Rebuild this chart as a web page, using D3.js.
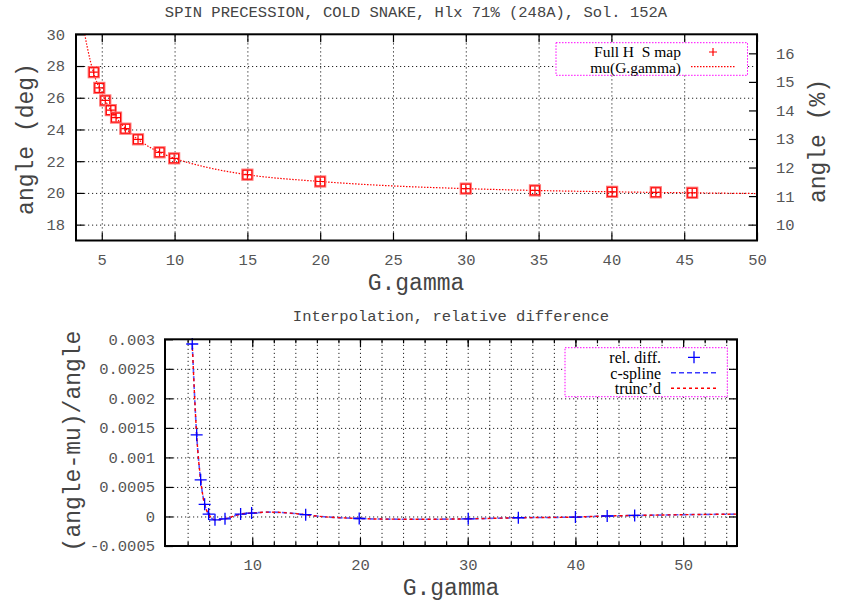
<!DOCTYPE html>
<html><head><meta charset="utf-8">
<script src="https://cdn.jsdelivr.net/npm/d3@7/dist/d3.min.js"></script>
<style>
body{margin:0;background:#fff;}
svg text{font-family:"Liberation Mono","DejaVu Sans Mono",monospace;}
</style></head>
<body><svg id="c" width="841" height="603"></svg>
<script>
// ---- data: top panel ----
const gGamma = [4.45, 4.83, 5.24, 5.62, 5.98, 6.62, 7.49, 8.97, 9.97, 15.0, 20.0, 30.0, 34.75, 40.05, 43.05, 45.55];
const angleDeg = [27.61, 26.62, 25.83, 25.22, 24.75, 24.05, 23.38, 22.56, 22.18, 21.15, 20.72, 20.27, 20.16, 20.07, 20.04, 20.01];
const muG = [3.83, 4.0, 4.45, 5.0, 5.5, 6.0, 7.0, 8.0, 9.0, 10.0, 12.0, 15.0, 20.0, 25.0, 30.0, 35.0, 40.0, 45.0, 50.0];
const muVal = [30.0, 29.2, 27.53, 26.28, 25.4, 24.74, 23.74, 23.05, 22.55, 22.18, 21.66, 21.15, 20.72, 20.44, 20.27, 20.15, 20.07, 20.01, 19.96];
const topXTicks = [5, 10, 15, 20, 25, 30, 35, 40, 45, 50];
const topYTicks = [18, 20, 22, 24, 26, 28, 30];
const topY2Ticks = [10, 11, 12, 13, 14, 15, 16];
// ---- data: bottom panel ----
const relG = [4.43, 4.84, 5.21, 5.58, 5.95, 6.54, 7.47, 8.92, 9.94, 14.96, 19.93, 30.05, 34.7, 40.0, 42.95, 45.5];
const relDiff = [0.00292, 0.00138, 0.00062, 0.000205, 0.00004, -0.000056, -0.00004, 0.00004, 0.000057, 0.00003, -0.000034, -0.00004, -0.000022, -0.00001, 0.000008, 0.000017];
const splineG = [4.43, 4.84, 5.21, 5.58, 5.95, 6.54, 7.47, 8.92, 9.94, 11.6, 14.96, 16.0, 19.93, 22.0, 26.0, 30.05, 34.7, 40.0, 42.95, 45.5, 50.0, 55.0];
const splineVal = [0.00292, 0.00138, 0.00062, 0.000205, 0.00004, -0.000056, -0.00004, 0.00004, 0.000057, 0.000074, 0.00003, 0.000007, -0.000034, -0.000044, -0.000047, -0.00004, -0.000022, -0.00001, 0.000008, 0.000017, 0.00003, 0.00004];
const truncVal = [0.00292, 0.00138, 0.00062, 0.000205, 0.00004, -0.000056, -0.00004, 0.00004, 0.000057, 0.000074, 0.00003, 0.000007, -0.000034, -0.000044, -0.000047, -0.00004, -0.000022, -0.00001, 0.000008, 0.000017, 0.00003, 0.00004];
const botXTicks = [10, 20, 30, 40, 50];
const botXMinor = d3.range(4, 55, 2);
const botYTicks = [-0.0005, 0, 0.0005, 0.001, 0.0015, 0.002, 0.0025, 0.003];

const svg = d3.select("#c");
const TICKC = "#555", LABC = "#444";

function frame(g, x, y){
  const [x0,x1]=x.range(), [y0,y1]=y.range();
  g.append("rect").attr("x",x0).attr("y",y1).attr("width",x1-x0).attr("height",y0-y1)
   .attr("fill","none").attr("stroke","#000").attr("stroke-width",2);
}
function grid(g, x, y, xs, ys){
  const [x0,x1]=x.range(), [y0,y1]=y.range();
  const gx = g.append("g").attr("transform",`translate(0,${y0})`)
    .call(d3.axisBottom(x).tickValues(xs).tickSize(-(y0-y1)).tickFormat(""));
  const gy = g.append("g").attr("transform",`translate(${x0},0)`)
    .call(d3.axisLeft(y).tickValues(ys).tickSize(-(x1-x0)).tickFormat(""));
  [gx,gy].forEach(a=>{a.select(".domain").remove();
    a.selectAll("line").attr("stroke","#222").attr("stroke-width",1).attr("stroke-dasharray","1.2,2.8");});
}
function styleAxis(a, fs){
  a.select(".domain").remove();
  a.selectAll("line").attr("stroke","#000").attr("stroke-width",1.2);
  a.selectAll("text").attr("fill",TICKC).style("font-size",fs+"px");
}

// ================= TOP PANEL =================
const xT = d3.scaleLinear().domain([3.23, 50]).range([76, 757]);
const yT = d3.scaleLinear().domain([17, 30]).range([240.5, 34.3]);
const y2T = d3.scaleLinear().domain([17/1.8, 30/1.8]).range([240.5, 34.3]);
const gT = svg.append("g");
grid(gT, xT, yT, topXTicks.filter(d=>d<50), topYTicks.filter(d=>d<30));

let a = gT.append("g").attr("transform","translate(0,240.5)")
  .call(d3.axisBottom(xT).tickValues(topXTicks).tickSizeInner(-8).tickSizeOuter(0).tickPadding(13));
styleAxis(a, 15.5);
a = gT.append("g").attr("transform","translate(0,34.3)")
  .call(d3.axisTop(xT).tickValues(topXTicks).tickSizeInner(-8).tickSizeOuter(0).tickFormat(""));
styleAxis(a, 15.5);
a = gT.append("g").attr("transform","translate(76,0)")
  .call(d3.axisLeft(yT).tickValues(topYTicks).tickSizeInner(-8).tickSizeOuter(0).tickPadding(11));
styleAxis(a, 15.5);
a = gT.append("g").attr("transform","translate(757,0)")
  .call(d3.axisRight(y2T).tickValues(topY2Ticks).tickSizeInner(-8).tickSizeOuter(0).tickPadding(19));
styleAxis(a, 15.5);

// mu curve
svg.append("clipPath").attr("id","clipT").append("rect")
  .attr("x",76).attr("y",34.3).attr("width",681).attr("height",206.2);
gT.append("path").attr("clip-path","url(#clipT)")
  .datum(muG.map((g,i)=>[g, muVal[i]]))
  .attr("d", d3.line().x(d=>xT(d[0])).y(d=>yT(d[1])).curve(d3.curveMonotoneX))
  .attr("fill","none").attr("stroke","#f00").attr("stroke-width",1.2).attr("stroke-dasharray","1.5,1.5");

// points
const pts = gT.append("g").selectAll("g").data(gGamma.map((g,i)=>[g, angleDeg[i]])).join("g")
  .attr("transform", d=>`translate(${xT(d[0])},${yT(d[1])})`);
pts.append("rect").attr("x",-5).attr("y",-5).attr("width",10).attr("height",10)
  .attr("fill","none").attr("stroke","#ff7070").attr("stroke-width",2.2);
pts.append("rect").attr("x",-4.5).attr("y",-4.5).attr("width",9).attr("height",9)
  .attr("fill","none").attr("stroke","#f00").attr("stroke-width",1);
pts.append("path").attr("d","M-4,0H4M0,-4V4").attr("stroke","#f00").attr("stroke-width",1.2);

frame(gT, xT, yT);

// titles / labels
svg.append("text").attr("x",416).attr("y",17).attr("text-anchor","middle")
  .attr("fill",LABC).style("font-size","15.5px").text("SPIN PRECESSION, COLD SNAKE, Hlx 71% (248A), Sol. 152A");
svg.append("text").attr("x",416).attr("y",290).attr("text-anchor","middle")
  .attr("fill",LABC).style("font-size","23px").text("G.gamma");
svg.append("text").attr("transform","translate(33,139) rotate(-90)").attr("text-anchor","middle")
  .attr("fill",LABC).style("font-size","23px").text("angle (deg)");
svg.append("text").attr("transform","translate(825,141) rotate(-90)").attr("text-anchor","middle")
  .attr("fill",LABC).style("font-size","23px").text("angle (%)");

// legend top
const lt = svg.append("g");
lt.append("rect").attr("x",556).attr("y",42.7).attr("width",191.5).attr("height",32.6)
  .attr("fill","#fff").attr("stroke","#f0f").attr("stroke-width",1).attr("stroke-dasharray","1.5,1.5");
lt.append("text").attr("x",681).attr("y",57).attr("text-anchor","end").attr("fill","#000")
  .style("font-family","'Liberation Serif',serif").style("font-size","15.5px").style("white-space","pre")
  .text("Full H\u00a0 S map");
lt.append("path").attr("d","M709,52H717M713,48V56").attr("stroke","#f00").attr("stroke-width",1.2);
lt.append("text").attr("x",681).attr("y",72.5).attr("text-anchor","end").attr("fill","#000")
  .style("font-family","'Liberation Serif',serif").style("font-size","15.5px").text("mu(G.gamma)");
lt.append("line").attr("x1",691).attr("x2",735).attr("y1",66.7).attr("y2",66.7)
  .attr("stroke","#f00").attr("stroke-width",1.2).attr("stroke-dasharray","1.5,1.5");

// ================= BOTTOM PANEL =================
const xB = d3.scaleLinear().domain([1.9, 55]).range([165, 737]);
const yB = d3.scaleLinear().domain([-0.0005, 0.003]).range([546, 339.3]);
const gB = svg.append("g");
grid(gB, xB, yB, botXMinor, botYTicks.filter(d=>d>-0.0005 && d<0.003));

const fmtB = d => d===0 ? "0" : String(+d.toFixed(4));
a = gB.append("g").attr("transform","translate(0,546)")
  .call(d3.axisBottom(xB).tickValues(botXMinor).tickSizeInner(-4).tickSizeOuter(0).tickFormat(""));
styleAxis(a, 15.5);
a = gB.append("g").attr("transform","translate(0,339.3)")
  .call(d3.axisTop(xB).tickValues(botXMinor).tickSizeInner(-4).tickSizeOuter(0).tickFormat(""));
styleAxis(a, 15.5);
a = gB.append("g").attr("transform","translate(0,546)")
  .call(d3.axisBottom(xB).tickValues(botXTicks).tickSizeInner(-8).tickSizeOuter(0).tickPadding(13));
styleAxis(a, 15.5);
a = gB.append("g").attr("transform","translate(0,339.3)")
  .call(d3.axisTop(xB).tickValues(botXTicks).tickSizeInner(-8).tickSizeOuter(0).tickFormat(""));
styleAxis(a, 15.5);
a = gB.append("g").attr("transform","translate(165,0)")
  .call(d3.axisLeft(yB).tickValues(botYTicks).tickSizeInner(-8).tickSizeOuter(0).tickPadding(10).tickFormat(fmtB));
styleAxis(a, 15.5);
a = gB.append("g").attr("transform","translate(737,0)")
  .call(d3.axisRight(yB).tickValues(botYTicks).tickSizeInner(-8).tickSizeOuter(0).tickFormat(""));
styleAxis(a, 15.5);

svg.append("clipPath").attr("id","clipB").append("rect")
  .attr("x",165).attr("y",339.3).attr("width",572).attr("height",206.7);
const lineB = d3.line().x(d=>xB(d[0])).y(d=>yB(d[1])).curve(d3.curveMonotoneX);
gB.append("path").attr("clip-path","url(#clipB)").datum(splineG.map((g,i)=>[g, splineVal[i]]))
  .attr("d", lineB).attr("fill","none").attr("stroke","#3a3aff").attr("stroke-width",1.6)
  .attr("stroke-dasharray","5,3").attr("opacity",0.85);
gB.append("path").attr("clip-path","url(#clipB)").datum(splineG.map((g,i)=>[g, truncVal[i]]))
  .attr("d", lineB).attr("fill","none").attr("stroke","#f00").attr("stroke-width",1.4)
  .attr("stroke-dasharray","3,3").attr("stroke-dashoffset",2);
gB.append("g").selectAll("path").data(relG.map((g,i)=>[g, relDiff[i]])).join("path")
  .attr("d", d=>`M${xB(d[0])-6},${yB(d[1])}H${xB(d[0])+6}M${xB(d[0])},${yB(d[1])-6}V${yB(d[1])+6}`)
  .attr("stroke","#00f").attr("stroke-width",1.3);

frame(gB, xB, yB);

svg.append("text").attr("x",451).attr("y",321).attr("text-anchor","middle")
  .attr("fill",LABC).style("font-size","15.5px").text("Interpolation, relative difference");
svg.append("text").attr("x",451).attr("y",595).attr("text-anchor","middle")
  .attr("fill",LABC).style("font-size","23px").text("G.gamma");
svg.append("text").attr("transform","translate(80,441) rotate(-90)").attr("text-anchor","middle")
  .attr("fill",LABC).style("font-size","23px").text("(angle-mu)/angle");

// legend bottom
const lb = svg.append("g");
lb.append("rect").attr("x",565).attr("y",347.7).attr("width",162.3).attr("height",49)
  .attr("fill","#fff").attr("stroke","#f0f").attr("stroke-width",1).attr("stroke-dasharray","1.5,1.5");
const lbT = [["rel. diff.",363],["c-spline",378.5],["trunc\u2019d",394]];
lbT.forEach(([t,y])=>lb.append("text").attr("x",661).attr("y",y).attr("text-anchor","end")
  .attr("fill","#000").style("font-family","'Liberation Serif',serif").style("font-size","16px").text(t));
lb.append("path").attr("d","M688,357.3H700M694,351.3V363.3").attr("stroke","#00f").attr("stroke-width",1.3);
lb.append("line").attr("x1",671).attr("x2",717).attr("y1",372.7).attr("y2",372.7)
  .attr("stroke","#3a3aff").attr("stroke-width",1.4).attr("stroke-dasharray","5,3");
lb.append("line").attr("x1",671).attr("x2",717).attr("y1",388.3).attr("y2",388.3)
  .attr("stroke","#f00").attr("stroke-width",1.4).attr("stroke-dasharray","3,3");
</script></body></html>
